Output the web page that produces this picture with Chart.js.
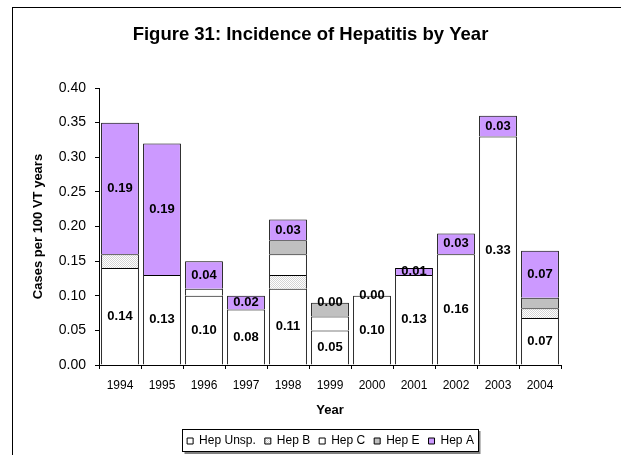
<!DOCTYPE html>
<html>
<head>
<meta charset="utf-8">
<script src="https://cdn.jsdelivr.net/npm/chart.js"></script>
<style>
  html, body { margin: 0; padding: 0; background: #fff; }
  canvas { display: block; }
</style>
</head>
<body>
<canvas id="canvas" width="621" height="455"></canvas>
<script>
const years = ["1994", "1995", "1996", "1997", "1998", "1999", "2000", "2001", "2002", "2003", "2004"]
const hepUnsp = [0.14, 0.13, 0.10, 0.08, 0.11, 0.05, 0.10, 0.13, 0.16, 0.33, 0.068]
const hepB = [0.02, 0, 0, 0, 0.02, 0, 0, 0, 0, 0, 0.014]
const hepC = [0, 0, 0.01, 0, 0.03, 0.02, 0, 0, 0, 0, 0]
const hepE = [0, 0, 0, 0, 0.02, 0.02, 0, 0, 0, 0, 0.015]
const hepA = [0.19, 0.19, 0.04, 0.02, 0.03, 0.00, 0.00, 0.01, 0.03, 0.03, 0.068]
const yTicks = [0, 0.05, 0.10, 0.15, 0.20, 0.25, 0.30, 0.35, 0.40]

// only these series get value labels
const labelled = [0, 4]

const font = "'Liberation Sans', Arial, sans-serif"
let ctx = document.getElementById("canvas").getContext("2d")

// light stippled fill used for Hep B
function dots() {
    const c = document.createElement("canvas")
    c.width = 2
    c.height = 2
    const g = c.getContext("2d")
    g.fillStyle = "#fff"
    g.fillRect(0, 0, 2, 2)
    g.fillStyle = "#d4d4d4"
    g.fillRect(0, 0, 1, 1)
    g.fillRect(1, 1, 1, 1)
    return ctx.createPattern(c, "repeat")
}

function series(label, data, fill) {
    return {
        label: label,
        data: data,
        backgroundColor: fill,
        borderColor: "#000",
        borderWidth: 1,
        barPercentage: 0.9,
        categoryPercentage: 1,
    }
}

const page = {
    id: "page",
    beforeDraw(chart) {
        const c = chart.ctx
        c.save()
        c.fillStyle = "#fff"
        c.fillRect(0, 0, chart.width, chart.height)
        c.strokeStyle = "#000"
        c.lineWidth = 1
        c.strokeRect(12.5, 7.5, chart.width, chart.height)
        c.restore()
    },
    afterLayout(chart) {
        // title centred on the page, not on the padded box
        const t = chart.titleBlock
        const tx = 310.5 - (t.left + t.right) / 2
        t.left += tx
        t.right += tx
        // legend under the plot centre and a bit lower
        const lg = chart.legend
        const h = lg.bottom - lg.top
        const dx = 330.5 - (lg.left + lg.right) / 2
        lg.left += dx
        lg.right += dx
        lg.top = 426
        lg.bottom = 426 + h
    },
    afterDraw(chart) {
        const lg = chart.legend
        const pad = lg.options.labels.padding
        const start = (lg.left + pad + lg.right - lg.lineWidths[0]) / 2
        const end = start + lg.lineWidths[0] - pad
        const c = chart.ctx
        c.save()
        const x = Math.round(start - 5) + 0.5
        const w = Math.round(end - start + 9)
        c.strokeStyle = "#808080"
        c.lineWidth = 2
        c.beginPath()
        c.moveTo(x + 2, 453)
        c.lineTo(x + w + 1, 453)
        c.lineTo(x + w + 1, 431)
        c.stroke()
        c.strokeStyle = "#000"
        c.lineWidth = 1
        c.strokeRect(x, 429.5, w, 22)
        c.restore()
    }
}

const valueLabels = {
    id: "valueLabels",
    afterDatasetsDraw(chart) {
        const c = chart.ctx
        c.save()
        c.font = "bold 13px " + font
        c.fillStyle = "#000"
        c.textAlign = "center"
        c.textBaseline = "middle"
        labelled.forEach(i => {
            const meta = chart.getDatasetMeta(i)
            meta.data.forEach((bar, j) => {
                const v = chart.data.datasets[i].data[j]
                c.fillText(v.toFixed(2), bar.x, (bar.y + bar.base) / 2)
            })
        })
        c.restore()
    }
}

const config = {
    type: "bar",
    data: {
        labels: years,
        datasets: [
            series("Hep Unsp.", hepUnsp, "#fff"),
            series("Hep B", hepB, dots()),
            series("Hep C", hepC, "#fff"),
            series("Hep E", hepE, "#c0c0c0"),
            series("Hep A", hepA, "#cc99ff"),
        ]
    },
    options: {
        responsive: false,
        animation: false,
        layout: { padding: { left: 0, right: 60, top: 0, bottom: 0 } },
        plugins: {
            title: {
                display: true,
                text: "Figure 31: Incidence of Hepatitis by Year",
                color: "#000",
                font: { size: 18.5, weight: "bold", family: font },
                padding: { top: 24, bottom: 41.8 },
            },
            legend: {
                position: "bottom",
                labels: {
                    boxWidth: 6,
                    boxHeight: 6,
                    padding: 9,
                    color: "#000",
                    font: { size: 12, family: font },
                },
            },
            tooltip: { enabled: false },
        },
        scales: {
            x: {
                stacked: true,
                ticks: { color: "#000", font: { size: 12, family: font }, padding: 9, autoSkip: false, maxRotation: 0 },
                grid: { drawOnChartArea: false, color: "#000", tickLength: 4, offset: true },
                border: { color: "#000" },
                title: {
                    display: true,
                    text: "Year",
                    color: "#000",
                    font: { size: 13, weight: "bold", family: font },
                    padding: { top: 0, bottom: 6 },
                },
                afterFit(s) { s.height = 59 },
            },
            y: {
                stacked: true,
                min: yTicks[0],
                max: yTicks[yTicks.length - 1],
                afterBuildTicks(s) { s.ticks = yTicks.map(v => ({ value: v })) },
                ticks: { color: "#000", font: { size: 14, family: font }, padding: 9, callback: v => v.toFixed(2) },
                grid: { drawOnChartArea: false, color: "#000", tickLength: 4 },
                border: { color: "#000" },
                title: {
                    display: true,
                    text: "Cases per 100 VT years",
                    color: "#000",
                    font: { size: 13, weight: "bold", family: font },
                    padding: { top: 31, bottom: 0 },
                },
                afterFit(s) { s.width = 99 },
            },
        },
    },
    plugins: [page, valueLabels],
}

let chart = new Chart(ctx, config)
</script>
</body>
</html>
